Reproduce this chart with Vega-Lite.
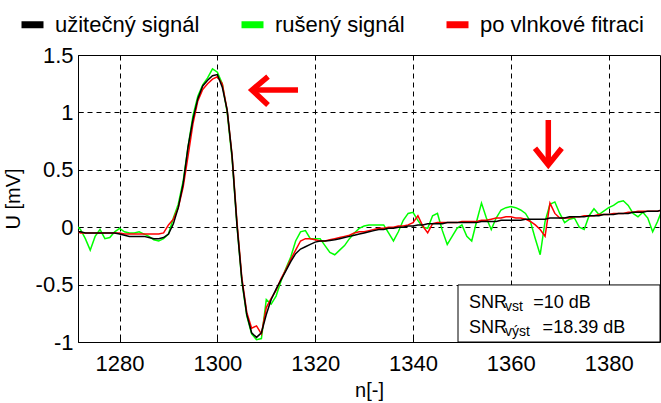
{
  "$schema": "https://vega.github.io/schema/vega-lite/v6.json",
  "width": 582,
  "height": 287,
  "autosize": {"type": "none"},
  "padding": {"left": 78, "top": 55, "right": 1, "bottom": 61},
  "background": "white",
  "config": {
    "font": "Liberation Sans",
    "view": {"stroke": "black", "strokeWidth": 1},
    "axis": {
      "labelColor": "black",
      "labelFont": "Liberation Sans",
      "labelFontSize": 22,
      "titleFont": "Liberation Sans",
      "titleFontSize": 20,
      "titleFontWeight": "normal",
      "titleColor": "black",
      "grid": true,
      "gridColor": "black",
      "gridDash": [5, 4],
      "gridOpacity": 1,
      "gridWidth": 1,
      "domain": false,
      "tickColor": "black",
      "tickSize": -5,
      "tickWidth": 1
    }
  },
  "datasets": {
    "sig": [
      {"n":1271,"užitečný signál":-0.04,"rušený signál":0.02,"po vlnkové fitraci":-0.03},
      {"n":1272,"užitečný signál":-0.04,"rušený signál":-0.02,"po vlnkové fitraci":-0.05},
      {"n":1273,"užitečný signál":-0.05,"rušený signál":-0.10,"po vlnkové fitraci":-0.05},
      {"n":1274,"užitečný signál":-0.05,"rušený signál":-0.20,"po vlnkové fitraci":-0.05},
      {"n":1275,"užitečný signál":-0.05,"rušený signál":-0.08,"po vlnkové fitraci":-0.05},
      {"n":1276,"užitečný signál":-0.05,"rušený signál":-0.02,"po vlnkové fitraci":-0.05},
      {"n":1277,"užitečný signál":-0.05,"rušený signál":-0.10,"po vlnkové fitraci":-0.05},
      {"n":1278,"užitečný signál":-0.05,"rušený signál":-0.09,"po vlnkové fitraci":-0.05},
      {"n":1279,"užitečný signál":-0.05,"rušený signál":-0.04,"po vlnkové fitraci":-0.05},
      {"n":1280,"užitečný signál":-0.06,"rušený signál":-0.01,"po vlnkové fitraci":-0.05},
      {"n":1281,"užitečný signál":-0.07,"rušený signál":-0.04,"po vlnkové fitraci":-0.06},
      {"n":1282,"užitečný signál":-0.08,"rušený signál":-0.05,"po vlnkové fitraci":-0.06},
      {"n":1283,"užitečný signál":-0.08,"rušený signál":-0.05,"po vlnkové fitraci":-0.06},
      {"n":1284,"užitečný signál":-0.08,"rušený signál":-0.04,"po vlnkové fitraci":-0.06},
      {"n":1285,"užitečný signál":-0.08,"rušený signál":-0.06,"po vlnkové fitraci":-0.06},
      {"n":1286,"užitečný signál":-0.09,"rušený signál":-0.08,"po vlnkové fitraci":-0.06},
      {"n":1287,"užitečný signál":-0.10,"rušený signál":-0.11,"po vlnkové fitraci":-0.06},
      {"n":1288,"užitečný signál":-0.10,"rušený signál":-0.12,"po vlnkové fitraci":-0.06},
      {"n":1289,"užitečný signál":-0.09,"rušený signál":-0.10,"po vlnkové fitraci":-0.05},
      {"n":1290,"užitečný signál":-0.06,"rušený signál":-0.06,"po vlnkové fitraci":0.02},
      {"n":1291,"užitečný signál":0.03,"rušený signál":0.08,"po vlnkové fitraci":0.07},
      {"n":1292,"užitečný signál":0.17,"rušený signál":0.20,"po vlnkové fitraci":0.17},
      {"n":1293,"užitečný signál":0.38,"rušený signál":0.40,"po vlnkové fitraci":0.35},
      {"n":1294,"užitečný signál":0.70,"rušený signál":0.70,"po vlnkové fitraci":0.62},
      {"n":1295,"užitečný signál":0.94,"rušený signál":0.97,"po vlnkové fitraci":0.90},
      {"n":1296,"užitečný signál":1.12,"rušený signál":1.14,"po vlnkové fitraci":1.10},
      {"n":1297,"užitečný signál":1.23,"rušený signál":1.24,"po vlnkové fitraci":1.20},
      {"n":1298,"užitečný signál":1.28,"rušený signál":1.30,"po vlnkové fitraci":1.25},
      {"n":1299,"užitečný signál":1.32,"rušený signál":1.38,"po vlnkové fitraci":1.29},
      {"n":1300,"užitečný signál":1.33,"rušený signál":1.35,"po vlnkové fitraci":1.31},
      {"n":1301,"užitečný signál":1.22,"rušený signál":1.25,"po vlnkové fitraci":1.25},
      {"n":1302,"užitečný signál":1.02,"rušený signál":1.00,"po vlnkové fitraci":1.02},
      {"n":1303,"užitečný signál":0.62,"rušený signál":0.60,"po vlnkové fitraci":0.63},
      {"n":1304,"užitečný signál":0.02,"rušený signál":0.02,"po vlnkové fitraci":0.05},
      {"n":1305,"užitečný signál":-0.46,"rušený signál":-0.47,"po vlnkové fitraci":-0.44},
      {"n":1306,"užitečný signál":-0.76,"rušený signál":-0.77,"po vlnkové fitraci":-0.74},
      {"n":1307,"užitečný signál":-0.92,"rušený signál":-0.93,"po vlnkové fitraci":-0.88},
      {"n":1308,"užitečný signál":-0.96,"rušený signál":-0.98,"po vlnkové fitraci":-0.86},
      {"n":1309,"užitečný signál":-0.92,"rušený signál":-0.97,"po vlnkové fitraci":-0.93},
      {"n":1310,"užitečný signál":-0.76,"rušený signál":-0.63,"po vlnkové fitraci":-0.70},
      {"n":1311,"užitečný signál":-0.63,"rušený signál":-0.67,"po vlnkové fitraci":-0.62},
      {"n":1312,"užitečný signál":-0.54,"rušený signál":-0.60,"po vlnkové fitraci":-0.55},
      {"n":1313,"užitečný signál":-0.46,"rušený signál":-0.47,"po vlnkové fitraci":-0.45},
      {"n":1314,"užitečný signál":-0.38,"rušený signál":-0.36,"po vlnkové fitraci":-0.37},
      {"n":1315,"užitečný signál":-0.30,"rušený signál":-0.26,"po vlnkové fitraci":-0.28},
      {"n":1316,"užitečný signál":-0.23,"rušený signál":-0.12,"po vlnkové fitraci":-0.20},
      {"n":1317,"užitečný signál":-0.19,"rušený signál":-0.04,"po vlnkové fitraci":-0.12},
      {"n":1318,"užitečný signál":-0.17,"rušený signál":-0.03,"po vlnkové fitraci":-0.10},
      {"n":1319,"užitečný signál":-0.15,"rušený signál":-0.10,"po vlnkové fitraci":-0.10},
      {"n":1320,"užitečný signál":-0.13,"rušený signál":-0.10,"po vlnkové fitraci":-0.11},
      {"n":1321,"užitečný signál":-0.12,"rušený signál":-0.10,"po vlnkové fitraci":-0.12},
      {"n":1322,"užitečný signál":-0.12,"rušený signál":-0.16,"po vlnkové fitraci":-0.12},
      {"n":1323,"užitečný signál":-0.115,"rušený signál":-0.22,"po vlnkové fitraci":-0.11},
      {"n":1324,"užitečný signál":-0.11,"rušený signál":-0.24,"po vlnkové fitraci":-0.10},
      {"n":1325,"užitečný signál":-0.10,"rušený signál":-0.20,"po vlnkové fitraci":-0.09},
      {"n":1326,"užitečný signál":-0.09,"rušený signál":-0.16,"po vlnkové fitraci":-0.08},
      {"n":1327,"užitečný signál":-0.08,"rušený signál":-0.10,"po vlnkové fitraci":-0.07},
      {"n":1328,"užitečný signál":-0.07,"rušený signál":-0.05,"po vlnkové fitraci":-0.05},
      {"n":1329,"užitečný signál":-0.06,"rušený signál":-0.01,"po vlnkové fitraci":-0.04},
      {"n":1330,"užitečný signál":-0.05,"rušený signál":0.01,"po vlnkové fitraci":-0.04},
      {"n":1331,"užitečný signál":-0.04,"rušený signál":0.02,"po vlnkové fitraci":-0.03},
      {"n":1332,"užitečný signál":-0.03,"rušený signál":0.02,"po vlnkové fitraci":-0.02},
      {"n":1333,"užitečný signál":-0.02,"rušený signál":0.02,"po vlnkové fitraci":-0.01},
      {"n":1334,"užitečný signál":-0.02,"rušený signál":0.02,"po vlnkové fitraci":-0.01},
      {"n":1335,"užitečný signál":-0.01,"rušený signál":-0.05,"po vlnkové fitraci":0.00},
      {"n":1336,"užitečný signál":-0.01,"rušený signál":-0.12,"po vlnkové fitraci":0.00},
      {"n":1337,"užitečný signál":0.00,"rušený signál":-0.04,"po vlnkové fitraci":0.01},
      {"n":1338,"užitečný signál":0.00,"rušený signál":0.06,"po vlnkové fitraci":0.01},
      {"n":1339,"užitečný signál":0.01,"rušený signál":0.12,"po vlnkové fitraci":0.02},
      {"n":1340,"užitečný signál":0.01,"rušený signál":0.13,"po vlnkové fitraci":0.04},
      {"n":1341,"užitečný signál":0.02,"rušený signál":0.06,"po vlnkové fitraci":0.10},
      {"n":1342,"užitečný signál":0.02,"rušený signál":0.00,"po vlnkové fitraci":0.01},
      {"n":1343,"užitečný signál":0.03,"rušený signál":-0.01,"po vlnkové fitraci":-0.05},
      {"n":1344,"užitečný signál":0.03,"rušený signál":0.10,"po vlnkové fitraci":0.03},
      {"n":1345,"užitečný signál":0.03,"rušený signál":0.12,"po vlnkové fitraci":0.04},
      {"n":1346,"užitečný signál":0.03,"rušený signál":-0.03,"po vlnkové fitraci":0.04},
      {"n":1347,"užitečný signál":0.04,"rušený signál":-0.15,"po vlnkové fitraci":0.04},
      {"n":1348,"užitečný signál":0.04,"rušený signál":-0.08,"po vlnkové fitraci":0.04},
      {"n":1349,"užitečný signál":0.04,"rušený signál":-0.01,"po vlnkové fitraci":0.04},
      {"n":1350,"užitečný signál":0.04,"rušený signál":0.02,"po vlnkové fitraci":0.05},
      {"n":1351,"užitečný signál":0.04,"rušený signál":-0.08,"po vlnkové fitraci":0.05},
      {"n":1352,"užitečný signál":0.04,"rušený signál":-0.12,"po vlnkové fitraci":0.05},
      {"n":1353,"užitečný signál":0.04,"rušený signál":0.05,"po vlnkové fitraci":0.05},
      {"n":1354,"užitečný signál":0.05,"rušený signál":0.21,"po vlnkové fitraci":0.06},
      {"n":1355,"užitečný signál":0.05,"rušený signál":0.08,"po vlnkové fitraci":0.06},
      {"n":1356,"užitečný signál":0.05,"rušený signál":-0.02,"po vlnkové fitraci":0.07},
      {"n":1357,"užitečný signál":0.05,"rušený signál":0.08,"po vlnkové fitraci":0.08},
      {"n":1358,"užitečný signál":0.06,"rušený signál":0.15,"po vlnkové fitraci":0.08},
      {"n":1359,"užitečný signál":0.06,"rušený signál":0.17,"po vlnkové fitraci":0.09},
      {"n":1360,"užitečný signál":0.06,"rušený signál":0.18,"po vlnkové fitraci":0.09},
      {"n":1361,"užitečný signál":0.06,"rušený signál":0.17,"po vlnkové fitraci":0.08},
      {"n":1362,"užitečný signál":0.06,"rušený signál":0.15,"po vlnkové fitraci":0.08},
      {"n":1363,"užitečný signál":0.07,"rušený signál":0.12,"po vlnkové fitraci":0.07},
      {"n":1364,"užitečný signál":0.07,"rušený signál":0.05,"po vlnkové fitraci":0.05},
      {"n":1365,"užitečný signál":0.07,"rušený signál":-0.10,"po vlnkové fitraci":0.02},
      {"n":1366,"užitečný signál":0.07,"rušený signál":-0.24,"po vlnkové fitraci":-0.02},
      {"n":1367,"užitečný signál":0.07,"rušený signál":0.05,"po vlnkové fitraci":-0.08},
      {"n":1368,"užitečný signál":0.08,"rušený signál":0.20,"po vlnkové fitraci":0.21},
      {"n":1369,"užitečný signál":0.08,"rušený signál":0.22,"po vlnkové fitraci":0.12},
      {"n":1370,"užitečný signál":0.08,"rušený signál":0.12,"po vlnkové fitraci":0.08},
      {"n":1371,"užitečný signál":0.08,"rušený signál":0.04,"po vlnkové fitraci":0.08},
      {"n":1372,"užitečný signál":0.09,"rušený signál":0.07,"po vlnkové fitraci":0.08},
      {"n":1373,"užitečný signál":0.09,"rušený signál":0.08,"po vlnkové fitraci":0.09},
      {"n":1374,"užitečný signál":0.09,"rušený signál":0.00,"po vlnkové fitraci":0.09},
      {"n":1375,"užitečný signál":0.09,"rušený signál":-0.02,"po vlnkové fitraci":0.10},
      {"n":1376,"užitečný signál":0.10,"rušený signál":0.10,"po vlnkové fitraci":0.10},
      {"n":1377,"užitečný signál":0.10,"rušený signál":0.16,"po vlnkové fitraci":0.10},
      {"n":1378,"užitečný signál":0.10,"rušený signál":0.11,"po vlnkové fitraci":0.11},
      {"n":1379,"užitečný signál":0.11,"rušený signál":0.14,"po vlnkové fitraci":0.11},
      {"n":1380,"užitečný signál":0.11,"rušený signál":0.17,"po vlnkové fitraci":0.11},
      {"n":1381,"užitečný signál":0.11,"rušený signál":0.19,"po vlnkové fitraci":0.12},
      {"n":1382,"užitečný signál":0.12,"rušený signál":0.22,"po vlnkové fitraci":0.12},
      {"n":1383,"užitečný signál":0.12,"rušený signál":0.23,"po vlnkové fitraci":0.12},
      {"n":1384,"užitečný signál":0.12,"rušený signál":0.19,"po vlnkové fitraci":0.13},
      {"n":1385,"užitečný signál":0.13,"rušený signál":0.12,"po vlnkové fitraci":0.13},
      {"n":1386,"užitečný signál":0.13,"rušený signál":0.09,"po vlnkové fitraci":0.14},
      {"n":1387,"užitečný signál":0.13,"rušený signál":0.13,"po vlnkové fitraci":0.14},
      {"n":1388,"užitečný signál":0.14,"rušený signál":0.08,"po vlnkové fitraci":0.14},
      {"n":1389,"užitečný signál":0.14,"rušený signál":-0.04,"po vlnkové fitraci":0.14},
      {"n":1390,"užitečný signál":0.14,"rušený signál":0.05,"po vlnkové fitraci":0.14},
      {"n":1391,"užitečný signál":0.15,"rušený signál":0.16,"po vlnkové fitraci":0.15}
    ],
    "arrows": [
      {"id":"a1","o":0,"x":1310.35,"y":1.311},
      {"id":"a1","o":1,"x":1307.08,"y":1.195},
      {"id":"a1","o":2,"x":1310.35,"y":1.064},
      {"id":"a2","o":0,"x":1307.6,"y":1.195},
      {"id":"a2","o":1,"x":1316.48,"y":1.195},
      {"id":"a3","o":0,"x":1364.94,"y":0.687},
      {"id":"a3","o":1,"x":1367.66,"y":0.542},
      {"id":"a3","o":2,"x":1370.4,"y":0.687},
      {"id":"a4","o":0,"x":1367.66,"y":0.934},
      {"id":"a4","o":1,"x":1367.66,"y":0.57}
    ],
    "box": [
      {"x1":1349.2,"x2":1390.5,"y1":-0.503,"y2":-1}
    ],
    "snr": [
      {"x":1351.44,"y":-0.704,"t":"SNR","k":"main"},
      {"x":1358.8,"y":-0.73,"t":"vst","k":"sub"},
      {"x":1364.6,"y":-0.704,"t":"=10 dB","k":"main"},
      {"x":1351.44,"y":-0.922,"t":"SNR","k":"main"},
      {"x":1358.8,"y":-0.948,"t":"výst","k":"sub"},
      {"x":1366.5,"y":-0.922,"t":"=18.39 dB","k":"main"}
    ]
  },
  "layer": [
    {
      "data": {"name": "sig"},
      "transform": [
        {"fold": ["užitečný signál", "rušený signál", "po vlnkové fitraci"], "as": ["s", "v"]},
        {"filter": "datum.s == 'rušený signál'"}
      ],
      "mark": {"type": "line", "strokeWidth": 1.5, "clip": true},
      "encoding": {
        "x": {
          "field": "n", "type": "quantitative",
          "scale": {"domain": [1271.5, 1390.5], "nice": false, "zero": false},
          "axis": {
            "values": [1280, 1300, 1320, 1340, 1360, 1380],
            "format": "d",
            "title": "n[-]",
            "labelPadding": 16,
            "titlePadding": 6
          }
        },
        "y": {
          "field": "v", "type": "quantitative",
          "scale": {"domain": [-1, 1.5], "nice": false, "zero": false},
          "axis": {
            "values": [-1, -0.5, 0, 0.5, 1, 1.5],
            "labelExpr": "'' + datum.value",
            "title": "U [mV]",
            "labelPadding": 10,
            "titlePadding": 12
          }
        },
        "color": {
          "field": "s", "type": "nominal",
          "scale": {
            "domain": ["užitečný signál", "rušený signál", "po vlnkové fitraci"],
            "range": ["#000000", "#00ff00", "#ff0000"]
          },
          "legend": {
            "orient": "none",
            "legendX": -60,
            "legendY": -45,
            "direction": "horizontal",
            "title": null,
            "symbolType": "stroke",
            "symbolStrokeWidth": 7,
            "symbolSize": 484,
            "labelFont": "Liberation Sans",
            "labelFontSize": 22,
            "labelColor": "black",
            "labelOffset": 8,
            "labelLimit": 400,
            "columnPadding": 27,
            "padding": 0
          }
        }
      }
    },
    {
      "data": {"name": "sig"},
      "transform": [
        {"fold": ["užitečný signál", "rušený signál", "po vlnkové fitraci"], "as": ["s", "v"]},
        {"filter": "datum.s == 'po vlnkové fitraci'"}
      ],
      "mark": {"type": "line", "strokeWidth": 1.5, "clip": true},
      "encoding": {
        "x": {"field": "n", "type": "quantitative"},
        "y": {"field": "v", "type": "quantitative"},
        "color": {"field": "s", "type": "nominal"}
      }
    },
    {
      "data": {"name": "sig"},
      "transform": [
        {"fold": ["užitečný signál", "rušený signál", "po vlnkové fitraci"], "as": ["s", "v"]},
        {"filter": "datum.s == 'užitečný signál'"}
      ],
      "mark": {"type": "line", "strokeWidth": 1.5, "clip": true},
      "encoding": {
        "x": {"field": "n", "type": "quantitative"},
        "y": {"field": "v", "type": "quantitative"},
        "color": {"field": "s", "type": "nominal"}
      }
    },
    {
      "data": {"name": "arrows"},
      "mark": {"type": "line", "color": "#ff0000", "strokeWidth": 5.5, "strokeJoin": "miter", "strokeCap": "butt"},
      "encoding": {
        "x": {"field": "x", "type": "quantitative"},
        "y": {"field": "y", "type": "quantitative"},
        "detail": {"field": "id"},
        "order": {"field": "o"}
      }
    },
    {
      "data": {"name": "box"},
      "mark": {"type": "rect", "fill": "white", "stroke": "black", "strokeWidth": 1},
      "encoding": {
        "x": {"field": "x1", "type": "quantitative"},
        "x2": {"field": "x2"},
        "y": {"field": "y1", "type": "quantitative"},
        "y2": {"field": "y2"}
      }
    },
    {
      "data": {"name": "snr"},
      "transform": [{"filter": "datum.k == 'main'"}],
      "mark": {"type": "text", "align": "left", "baseline": "alphabetic", "font": "Liberation Sans", "fontSize": 18, "color": "black"},
      "encoding": {
        "x": {"field": "x", "type": "quantitative"},
        "y": {"field": "y", "type": "quantitative"},
        "text": {"field": "t"}
      }
    },
    {
      "data": {"name": "snr"},
      "transform": [{"filter": "datum.k == 'sub'"}],
      "mark": {"type": "text", "align": "left", "baseline": "alphabetic", "font": "Liberation Sans", "fontSize": 14, "color": "black"},
      "encoding": {
        "x": {"field": "x", "type": "quantitative"},
        "y": {"field": "y", "type": "quantitative"},
        "text": {"field": "t"}
      }
    }
  ]
}
